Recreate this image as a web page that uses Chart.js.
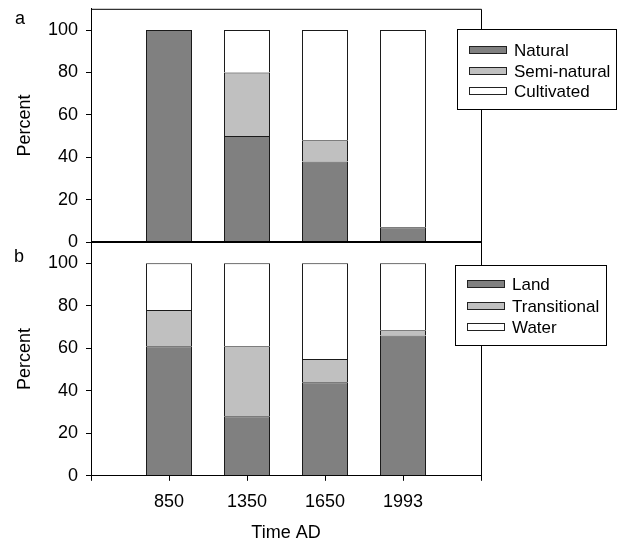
<!DOCTYPE html>
<html><head><meta charset="utf-8">
<script src="https://cdn.jsdelivr.net/npm/chart.js@4.4.1/dist/chart.umd.min.js"></script>
<style>
html,body{margin:0;padding:0;background:#fff;overflow:hidden;}
#wrap{position:relative;width:617px;height:544px;overflow:hidden;}
canvas{position:absolute;left:0;}
#ca{top:-10px;}
#cb{top:0;}
</style></head>
<body><div id="wrap"><canvas id="ca" width="617" height="554"></canvas><canvas id="cb" width="617" height="544"></canvas></div>
<script>
// ---- data ----
const years = ['850', '1350', '1650', '1993'];
const xPos = [1, 2, 3, 4];
const natural = [100, 50, 38, 7];
const semiNatural = [0, 30, 10, 0];
const cultivated = [0, 20, 52, 93];
const land = [61, 28, 44, 66];
const transitional = [17, 33, 11, 2.5];
const water = [22, 39, 45, 31.5];
const yTicks = [0, 20, 40, 60, 80, 100];
const xTicks = [0, 1, 2, 3, 4, 5];

const FAMILY = '"Liberation Sans", Arial, Helvetica, sans-serif';
Chart.defaults.font = {family: FAMILY, size: 18};
Chart.defaults.color = '#000';

const DARK = '#808080', LIGHT = '#c0c0c0', WHITE = '#ffffff', EDGE = '#1a1a1a';

function pts(vals) { return vals.map((v, i) => ({x: xPos[i], y: v})); }
function ds(label, vals, color) {
  return {label, data: pts(vals), backgroundColor: color, borderColor: EDGE, borderWidth: 1,
          borderSkipped: 'bottom', categoryPercentage: 1, barPercentage: 0.59};
}

const boxPlugin = {
  id: 'boxAndLegend',
  afterDraw(chart, args, opts) {
    const ctx = chart.ctx, a = chart.chartArea;
    ctx.save();
    ctx.strokeStyle = '#000';
    ctx.lineWidth = 1;
    ctx.beginPath();
    ctx.moveTo(a.left, a.top + 0.5); ctx.lineTo(a.right + 0.5, a.top + 0.5);
    ctx.lineTo(a.right + 0.5, a.bottom);
    ctx.stroke();
    if (opts.bottomLine) {
      ctx.lineWidth = 2;
      ctx.beginPath(); ctx.moveTo(a.left, a.bottom); ctx.lineTo(a.right + 1, a.bottom); ctx.stroke();
    }
    ctx.font = '18px ' + FAMILY;
    ctx.fillStyle = '#000';
    ctx.textAlign = 'center'; ctx.textBaseline = 'middle';
    ctx.fillText(opts.letter, opts.letterX, opts.letterY);
    const L = opts.legend;
    ctx.fillStyle = '#fff';
    ctx.fillRect(L.x, L.y, L.w, L.h);
    ctx.lineWidth = 1; ctx.strokeStyle = '#000';
    ctx.strokeRect(L.x + 0.5, L.y + 0.5, L.w, L.h);
    ctx.textAlign = 'left';
    ctx.font = '17px ' + FAMILY;
    chart.data.datasets.forEach((d, i) => {
      const cy = Math.round(L.y + L.first + i * L.step);
      ctx.fillStyle = d.backgroundColor;
      ctx.fillRect(L.x + 12, cy - 3, 37, 6);
      ctx.strokeStyle = '#222';
      ctx.strokeRect(L.x + 12.5, cy - 3.5, 37, 7);
      ctx.fillStyle = '#000';
      ctx.fillText(d.label, L.x + 57, cy + 1);
    });
    ctx.restore();
  }
};

function makeOptions(showX, padTop, padBottom, plug) {
  return {
    responsive: false, animation: false,
    layout: {padding: {left: 0, right: 136, top: padTop, bottom: padBottom}},
    plugins: {legend: {display: false}, tooltip: {enabled: false}, boxAndLegend: plug},
    scales: {
      x: {
        type: 'linear', stacked: true, min: 0, max: 5, display: showX, offset: false,
        afterBuildTicks: s => { s.ticks = xTicks.map(v => ({value: v})); },
        ticks: {callback: v => (v >= 1 && v <= years.length) ? years[v - 1] : '', padding: 10, maxRotation: 0, autoSkip: false},
        grid: {drawOnChartArea: false, tickLength: 5, color: '#000', offset: false},
        border: {color: '#000', width: 1},
        title: {display: true, text: 'Time AD', padding: {top: 0, bottom: 0}}
      },
      y: {
        stacked: true, min: 0, max: 110,
        afterBuildTicks: s => { s.ticks = yTicks.map(v => ({value: v})); },
        afterFit: s => { s.width = 91; },
        ticks: {padding: 8},
        grid: {drawOnChartArea: false, tickLength: 5, color: '#000'},
        border: {color: '#000', width: 1},
        title: {display: true, text: 'Percent', padding: {top: 14, bottom: 0}}
      }
    }
  };
}

new Chart(document.getElementById('ca'), {
  type: 'bar',
  data: {datasets: [ds('Natural', natural, DARK), ds('Semi-natural', semiNatural, LIGHT), ds('Cultivated', cultivated, WHITE)]},
  options: makeOptions(false, 1, 302, {letter: 'a', letterX: 20, letterY: 29, bottomLine: true,
    legend: {x: 457, y: 39, w: 159, h: 80, first: 21, step: 20.5}}),
  plugins: [boxPlugin]
});

new Chart(document.getElementById('cb'), {
  type: 'bar',
  data: {datasets: [ds('Land', land, DARK), ds('Transitional', transitional, LIGHT), ds('Water', water, WHITE)]},
  options: makeOptions(true, 242, 0, {letter: 'b', letterX: 19, letterY: 257, bottomLine: false,
    legend: {x: 455, y: 265, w: 151, h: 80, first: 19, step: 21.5}}),
  plugins: [boxPlugin]
});
</script></body></html>
